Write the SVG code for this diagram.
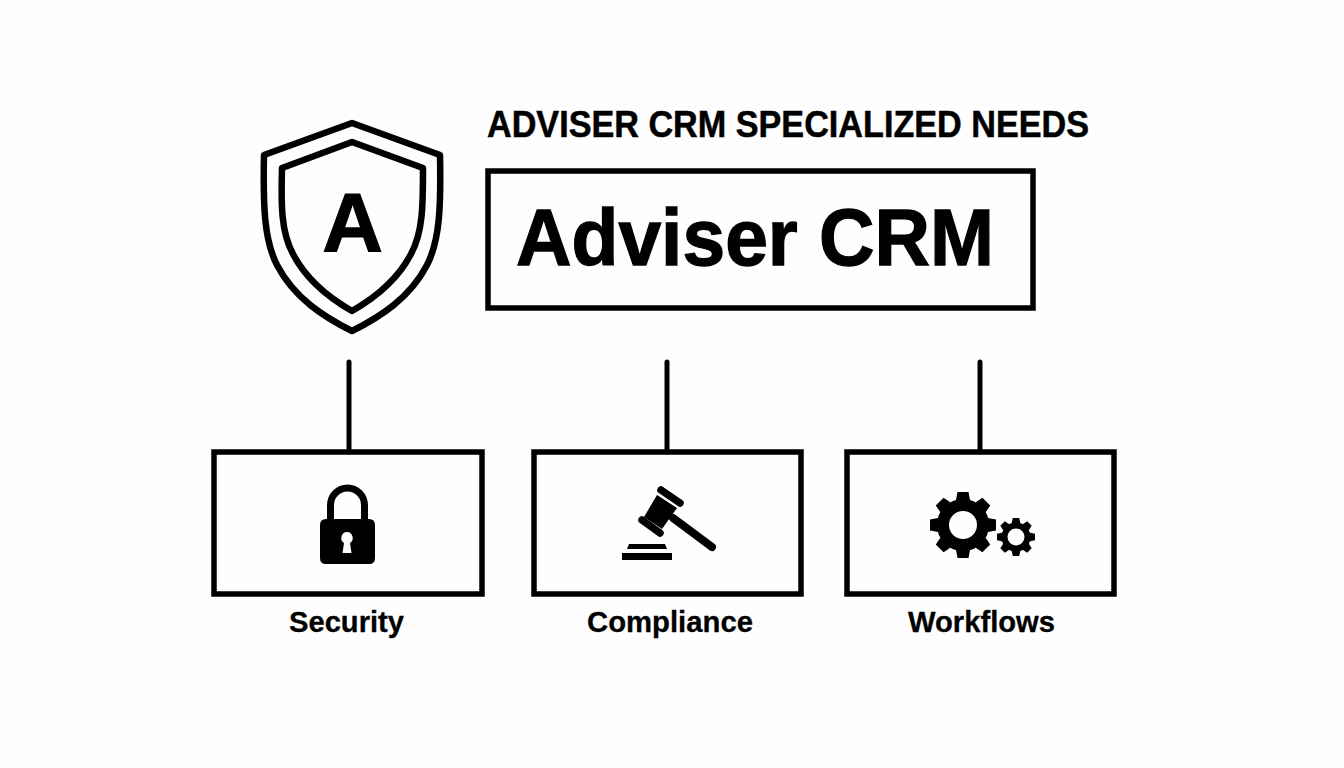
<svg xmlns="http://www.w3.org/2000/svg" width="1344" height="768" viewBox="0 0 1344 768">
<style>
.t{font-family:"Liberation Sans",Arial,sans-serif;font-weight:700;fill:#000;stroke:#000}
.box{fill:none;stroke:#000;stroke-width:5.500}
.ln{fill:none;stroke:#000;stroke-width:5;stroke-linecap:round}
.sh{fill:none;stroke:#000;stroke-width:6.500;stroke-linejoin:round}
.k{fill:#000}
</style>
<defs>
<polygon id="tb" points="-7,-25 -5.5,-33 5.5,-33 7,-25"/>
<polygon id="ts" points="-4.5,-13 -3.2,-19 3.2,-19 4.5,-13"/>
</defs>
<rect width="1344" height="768" fill="#fefefe"/>
<g id="title"><text class="t" x="487" y="136.500" font-size="36.500" stroke-width="0.500" textLength="602" lengthAdjust="spacingAndGlyphs">ADVISER CRM SPECIALIZED NEEDS</text></g>
<g id="shield">
<path class="sh" d="M352 123 L440 155 C441 205 440 240 427 265 C410 298 380 317 352 331 C324 317 294 298 277 265 C264 240 263 205 264 155 Z"/>
<path class="sh" d="M352 142 L423 168 C423 205 423 232 411 254 C397 281 373 299 352 311 C331 299 307 281 293 254 C281 232 281 205 282 168 Z"/>
<text class="t" x="352.500" y="252" font-size="84" text-anchor="middle" stroke-width="1.200">A</text>
</g>
<g id="main"><rect class="box" x="488" y="171" width="545" height="137"/>
<text class="t" x="516" y="265" font-size="80" stroke-width="1.300" textLength="478" lengthAdjust="spacingAndGlyphs">Adviser CRM</text></g>
<g id="connectors">
<line class="ln" x1="349" y1="362" x2="349" y2="452"/>
<line class="ln" x1="667" y1="362" x2="667" y2="452"/>
<line class="ln" x1="980" y1="362" x2="980" y2="452"/>
</g>
<g id="security"><rect class="box" x="214" y="452" width="268" height="142"/>
<path class="k" fill-rule="evenodd" d="M327 520 V505 A20.500 20.500 0 0 1 368 505 V520 H361 V505 A13.500 13.500 0 0 0 334 505 V520 Z"/>
<path class="k" fill-rule="evenodd" d="M326 519 H369 Q375 519 375 525 V558 Q375 564 369 564 H326 Q320 564 320 558 V525 Q320 519 326 519 Z M347 532 A6 6 0 0 0 344 543 L342.500 553 H351.500 L350 543 A6 6 0 0 0 347 532 Z"/>
<text class="t" x="289" y="632" font-size="29" stroke-width="0.300" textLength="115" lengthAdjust="spacingAndGlyphs">Security</text></g>
<g id="compliance"><rect class="box" x="534" y="452" width="267" height="142"/>
<polygon class="k" points="657,495 677,508 662,529 644,517"/>
<line x1="661" y1="490" x2="680" y2="503" stroke="#000" stroke-width="7.500" stroke-linecap="round"/>
<line x1="642" y1="520" x2="660" y2="533" stroke="#000" stroke-width="7.500" stroke-linecap="round"/>
<line x1="673" y1="518" x2="712" y2="547" stroke="#000" stroke-width="8" stroke-linecap="round"/>
<polygon class="k" points="629,544 665,544 667,549 627,549"/>
<rect class="k" x="622" y="553" width="50" height="7"/>
<text class="t" x="587" y="632" font-size="29" stroke-width="0.300" textLength="166" lengthAdjust="spacingAndGlyphs">Compliance</text></g>
<g id="workflows"><rect class="box" x="847" y="452" width="267" height="142"/>
<g class="k" transform="translate(963 525)">
<circle r="20" fill="none" stroke="#000" stroke-width="12"/>
<use href="#tb"/><use href="#tb" transform="rotate(45)"/><use href="#tb" transform="rotate(90)"/><use href="#tb" transform="rotate(135)"/><use href="#tb" transform="rotate(180)"/><use href="#tb" transform="rotate(225)"/><use href="#tb" transform="rotate(270)"/><use href="#tb" transform="rotate(315)"/>
</g>
<g class="k" transform="translate(1016 537)">
<circle r="11.500" fill="none" stroke="#000" stroke-width="6"/>
<use href="#ts"/><use href="#ts" transform="rotate(45)"/><use href="#ts" transform="rotate(90)"/><use href="#ts" transform="rotate(135)"/><use href="#ts" transform="rotate(180)"/><use href="#ts" transform="rotate(225)"/><use href="#ts" transform="rotate(270)"/><use href="#ts" transform="rotate(315)"/>
</g>
<text class="t" x="908" y="632" font-size="29" stroke-width="0.300" textLength="147" lengthAdjust="spacingAndGlyphs">Workflows</text></g>
</svg>
